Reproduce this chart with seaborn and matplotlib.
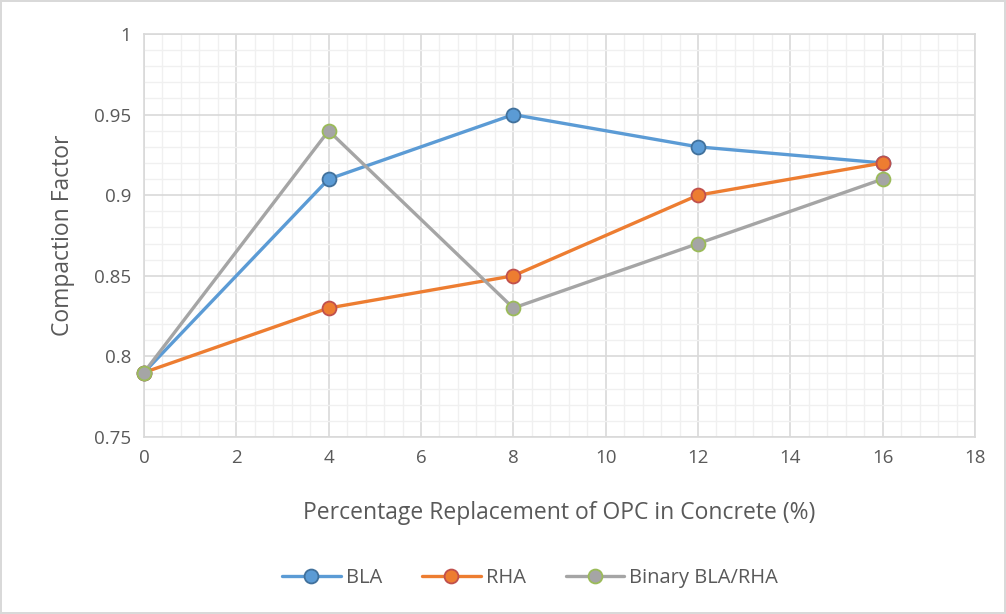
import matplotlib
matplotlib.use("Agg")
import matplotlib.pyplot as plt
import seaborn as sns
import pandas as pd
from matplotlib.ticker import MultipleLocator

replacement = [0, 4, 8, 12, 16]
bla = [0.79, 0.91, 0.95, 0.93, 0.92]
rha = [0.79, 0.83, 0.85, 0.90, 0.92]
binary = [0.79, 0.94, 0.83, 0.87, 0.91]
series_names = ["BLA", "RHA", "Binary BLA/RHA"]

sns.set_theme(style="white")
plt.rcParams['font.family'] = ['Open Sans', 'DejaVu Sans']

fig = plt.figure(figsize=(10.06, 6.14), dpi=100)
fig.patch.set_edgecolor('#D9D9D9')
fig.patch.set_linewidth(1.5)
ax = fig.add_axes([0.1431, 0.2883, 0.9692 - 0.1431, 0.9446 - 0.2883])

styles = {
    "BLA": dict(color="#5B9BD5", mec="#41719C"),
    "RHA": dict(color="#ED7D31", mec="#C0504D"),
    "Binary BLA/RHA": dict(color="#A5A5A5", mec="#9BBB59"),
}
df = pd.DataFrame({
    "x": replacement * 3,
    "y": bla + rha + binary,
    "series": [s for s in series_names for _ in replacement],
})
for name in series_names:
    sub = df[df.series == name]
    st = styles[name]
    sns.lineplot(data=sub, x="x", y="y", ax=ax, color=st["color"], linewidth=2.4,
                 marker='o', markersize=10, markerfacecolor=st["color"],
                 markeredgecolor=st["mec"], markeredgewidth=1.3, label=name, zorder=3,
                 clip_on=False)

ax.set_xlim(0, 18)
ax.set_ylim(0.75, 1.0)
ax.xaxis.set_major_locator(MultipleLocator(2))
ax.xaxis.set_minor_locator(MultipleLocator(0.4))
ax.yaxis.set_major_locator(MultipleLocator(0.05))
ax.yaxis.set_minor_locator(MultipleLocator(0.01))
ax.grid(which='major', color='#D9D9D9', linewidth=1.2)
ax.grid(which='minor', color='#F0F0F0', linewidth=1.0)
ax.set_axisbelow(True)
for sp in ax.spines.values():
    sp.set_color('#D9D9D9')
    sp.set_linewidth(1.2)

ax.set_xticks([0, 2, 4, 6, 8, 10, 12, 14, 16, 18])
ax.set_xticklabels(["0", "2", "4", "6", "8", "10", "12", "14", "16", "18"])
ax.set_yticks([0.75, 0.8, 0.85, 0.9, 0.95, 1.0])
ax.set_yticklabels(["0.75", "0.8", "0.85", "0.9", "0.95", "1"])
ax.tick_params(axis='both', which='both', length=0, labelsize=13.5, labelcolor='#595959', pad=9)

ax.set_xlabel("Percentage Replacement of OPC in Concrete (%)", fontsize=16.5, color='#595959', labelpad=24)
ax.set_ylabel("Compaction Factor", fontsize=16.5, color='#595959', labelpad=14)

handles, labels = ax.get_legend_handles_labels()
ax.get_legend().remove()
fig.legend(handles, labels, loc='center', bbox_to_anchor=(0.527, 1 - 578 / 614), ncol=3, frameon=False,
           fontsize=14.5, labelcolor='#595959', handlelength=2.9, columnspacing=2.0, handletextpad=0.25)

fig.savefig("out.png", dpi=100)
